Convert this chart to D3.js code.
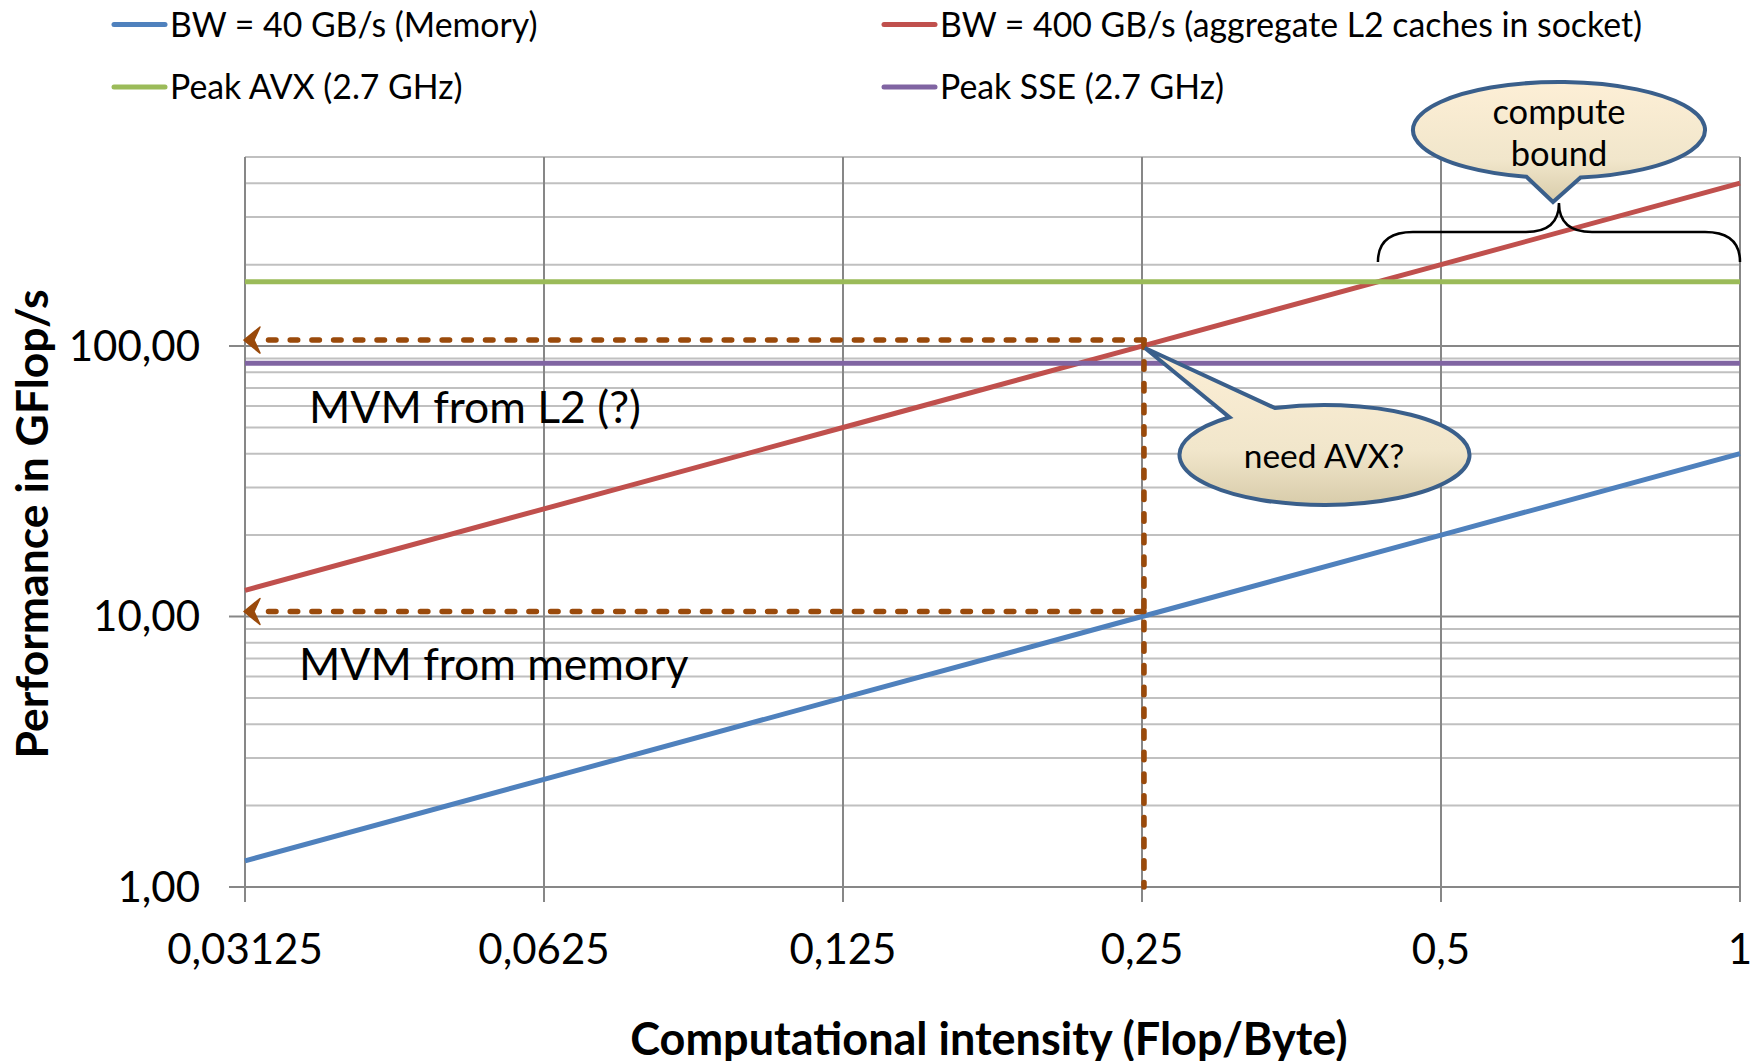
<!DOCTYPE html>
<html>
<head>
<meta charset="utf-8">
<script src="https://cdn.jsdelivr.net/npm/d3@7"></script>
<style>
  body { margin: 0; background: #fff; }
  svg { display: block; }
  text { font-family: Lato, "Open Sans", sans-serif; fill: #000; }
</style>
</head>
<body>
<svg id="chart" width="1750" height="1061"></svg>
<script>
// ---- data -------------------------------------------------------------
const intensity   = [0.03125, 0.0625, 0.125, 0.25, 0.5, 1];           // Flop/Byte
const xTickLabels = ["0,03125", "0,0625", "0,125", "0,25", "0,5", "1"];
const yMajorTicks = [1, 10, 100];
const yTickLabels = ["1,00", "10,00", "100,00"];
const yMinorTicks = [2, 3, 4, 5, 6, 7, 8, 9, 20, 30, 40, 50, 60, 70, 80, 90, 200, 300, 400, 500];

const bwMemory = [1.25, 2.5, 5, 10, 20, 40];          // 40 GB/s
const bwL2     = [12.5, 25, 50, 100, 200, 400];       // 400 GB/s
const peakAVX  = [172.8, 172.8, 172.8, 172.8, 172.8, 172.8];
const peakSSE  = [86.4, 86.4, 86.4, 86.4, 86.4, 86.4];

const seriesNames  = ["BW = 40 GB/s (Memory)", "BW = 400 GB/s (aggregate L2 caches in socket)",
                      "Peak AVX (2.7 GHz)", "Peak SSE (2.7 GHz)"];
const seriesValues = [bwMemory, bwL2, peakAVX, peakSSE];
const seriesColors = ["#4f81bd", "#c0504d", "#9bbb59", "#8064a2"];

// annotation anchors (data units)
const mvmIntensity = 0.25;
const mvmL2Perf    = 100;
const mvmMemPerf   = 10;
const computeBoundFrom = 0.432;   // where the L2 roof meets peak AVX

// ---- layout -----------------------------------------------------------
const svg = d3.select("#chart");
const plot = { left: 245, right: 1740, top: 157, bottom: 887 };

const x = d3.scaleLog().base(2).domain([0.03125, 1]).range([plot.left, plot.right]);
const y = d3.scaleLog().domain([1, 500]).range([plot.bottom, plot.top]);

const gridMajor = "#878787";
const gridMinor = "#c0c0c0";

// minor horizontal grid
svg.append("g").selectAll("line").data(yMinorTicks).join("line")
  .attr("x1", plot.left).attr("x2", plot.right)
  .attr("y1", d => y(d)).attr("y2", d => y(d))
  .attr("stroke", gridMinor).attr("stroke-width", 2);

// major horizontal grid with tick stubs on the left
svg.append("g").selectAll("line").data(yMajorTicks).join("line")
  .attr("x1", plot.left - 16).attr("x2", plot.right)
  .attr("y1", d => y(d)).attr("y2", d => y(d))
  .attr("stroke", gridMajor).attr("stroke-width", 2);

// vertical grid with tick stubs below the axis
svg.append("g").selectAll("line").data(intensity).join("line")
  .attr("x1", d => x(d)).attr("x2", d => x(d))
  .attr("y1", plot.top).attr("y2", plot.bottom + 15)
  .attr("stroke", gridMajor).attr("stroke-width", 2);

// y tick labels
svg.append("g").selectAll("text").data(yMajorTicks).join("text")
  .attr("x", 200).attr("y", d => y(d)).attr("dy", "0.35em")
  .attr("text-anchor", "end").attr("font-size", 42)
  .text((d, i) => yTickLabels[i]);

// x tick labels
svg.append("g").selectAll("text").data(intensity).join("text")
  .attr("x", d => x(d)).attr("y", 964)
  .attr("text-anchor", "middle").attr("font-size", 42)
  .text((d, i) => xTickLabels[i]);

// axis titles
svg.append("text")
  .attr("x", 989).attr("y", 1055)
  .attr("text-anchor", "middle").attr("font-size", 45).attr("font-weight", "bold")
  .text("Computational intensity (Flop/Byte)");
svg.append("text")
  .attr("transform", "translate(48,524) rotate(-90)")
  .attr("text-anchor", "middle").attr("font-size", 44.5).attr("font-weight", "bold")
  .text("Performance in GFlop/s");

// ---- series -----------------------------------------------------------
const line = d3.line().x(d => x(d[0])).y(d => y(d[1]));
svg.append("g").selectAll("path").data(seriesValues).join("path")
  .attr("d", vals => line(intensity.map((v, i) => [v, vals[i]])))
  .attr("fill", "none")
  .attr("stroke", (d, i) => seriesColors[i])
  .attr("stroke-width", 5);

// ---- legend -----------------------------------------------------------
const legendPos = [[112, 24.5], [882, 24.5], [112, 87], [882, 87]];
const legend = svg.append("g").selectAll("g").data(seriesNames).join("g")
  .attr("transform", (d, i) => `translate(${legendPos[i][0]},${legendPos[i][1]})`);
legend.append("line")
  .attr("x1", 2).attr("x2", 53).attr("y1", 0).attr("y2", 0)
  .attr("stroke", (d, i) => seriesColors[i]).attr("stroke-width", 5)
  .attr("stroke-linecap", "round");
legend.append("text")
  .attr("x", 58).attr("y", 0).attr("dy", "0.36em").attr("font-size", 33.8)
  .text(d => d);

// ---- annotations ------------------------------------------------------
const arrowColor = "#9a4a0b";
const ax = x(mvmIntensity) + 2;
const annotations = svg.append("g");

function dashedArrow(yy) {
  annotations.append("line")
    .attr("x1", ax).attr("x2", plot.left + 13).attr("y1", yy).attr("y2", yy)
    .attr("stroke", arrowColor).attr("stroke-width", 5.5)
    .attr("stroke-dasharray", "7.5 14.2").attr("stroke-linecap", "round");
  const t = plot.left - 1;
  annotations.append("path")
    .attr("d", `M${t},${yy} L${t + 16},${yy - 13} L${t + 10},${yy} L${t + 16},${yy + 13} Z`)
    .attr("fill", arrowColor).attr("stroke", arrowColor).attr("stroke-width", 1.5)
    .attr("stroke-linejoin", "round");
}
dashedArrow(y(mvmL2Perf) - 6);
dashedArrow(y(mvmMemPerf) - 5);

annotations.append("line")
  .attr("x1", ax).attr("x2", ax)
  .attr("y1", y(mvmL2Perf) - 6).attr("y2", plot.bottom)
  .attr("stroke", arrowColor).attr("stroke-width", 5.5)
  .attr("stroke-dasharray", "7.5 14.2").attr("stroke-linecap", "round");

annotations.append("text")
  .attr("x", 309).attr("y", 423).attr("font-size", 44.5)
  .text("MVM from L2 (?)");
annotations.append("text")
  .attr("x", 299).attr("y", 680).attr("font-size", 44.5)
  .text("MVM from memory");

// callout balloons
const defs = svg.append("defs");
const grad = defs.append("linearGradient").attr("id", "tan")
  .attr("x1", 0).attr("y1", 0).attr("x2", 0).attr("y2", 1);
grad.append("stop").attr("offset", "0%").attr("stop-color", "#fdefd6");
grad.append("stop").attr("offset", "65%").attr("stop-color", "#f1e6cb");
grad.append("stop").attr("offset", "100%").attr("stop-color", "#d8ccaa");

function balloon(cx, cy, rx, ry, a1, a2, tip) {
  // outline runs around the ellipse the long way from angle a2 to a1, then out to the tip
  const p = a => [cx + rx * Math.cos(a * Math.PI / 180), cy + ry * Math.sin(a * Math.PI / 180)];
  const s = p(a2), e = p(a1);
  const d = `M${s[0]},${s[1]} A${rx},${ry} 0 1 1 ${e[0]},${e[1]} L${tip[0]},${tip[1]} Z`;
  annotations.append("path").attr("d", d)
    .attr("fill", "url(#tan)").attr("stroke", "#3a5f8b").attr("stroke-width", 4)
    .attr("stroke-linejoin", "miter");
}

// "need AVX?" points at the L2 roof at 0.25 Flop/Byte
balloon(1324.5, 455, 145, 50, -131, -110, [x(mvmIntensity) + 3, y(mvmL2Perf) + 2]);
annotations.append("text")
  .attr("x", 1324).attr("y", 468).attr("text-anchor", "middle").attr("font-size", 33.5)
  .text("need AVX?");

// "compute bound" balloon over a brace spanning the compute-bound range
const bx0 = x(computeBoundFrom), bx1 = x(1), bxm = (bx0 + bx1) / 2;
const bEnd = 262, bBar = 232, bTip = 203;
annotations.append("path")
  .attr("d", `M${bx0},${bEnd} Q${bx0},${bBar} ${bx0 + 35},${bBar} L${bxm - 33},${bBar}
              Q${bxm},${bBar} ${bxm},${bTip} Q${bxm},${bBar} ${bxm + 33},${bBar}
              L${bx1 - 35},${bBar} Q${bx1},${bBar} ${bx1},${bEnd}`)
  .attr("fill", "none").attr("stroke", "#000").attr("stroke-width", 2.5);

balloon(1559, 130, 146, 48, 81.5, 102.9, [1553, 202]);
annotations.append("text")
  .attr("x", 1559).attr("y", 124).attr("text-anchor", "middle").attr("font-size", 34.5)
  .text("compute");
annotations.append("text")
  .attr("x", 1559).attr("y", 166).attr("text-anchor", "middle").attr("font-size", 34.5)
  .text("bound");
</script>
</body>
</html>
